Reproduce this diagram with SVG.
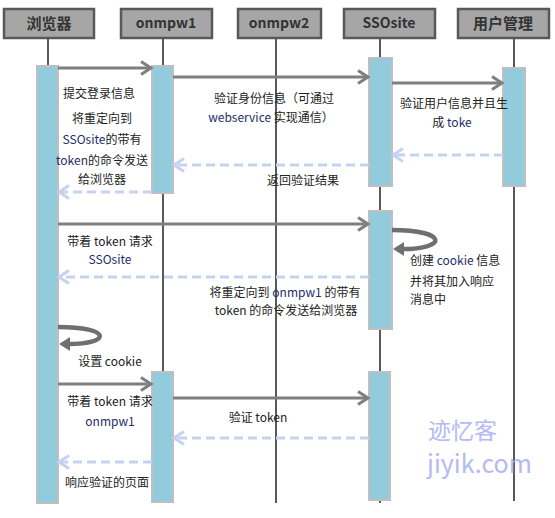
<svg xmlns="http://www.w3.org/2000/svg" width="555" height="518" viewBox="0 0 555 518">
<style>
text{font-family:"Noto Sans CJK SC","Noto Sans",sans-serif;font-size:12px;fill:#222}
.hd{fill:#a6a6a6;stroke:#595959;stroke-width:2.5}
.ht{font-size:14px;font-weight:bold;fill:#333;text-anchor:middle}
.ll{stroke:#595959;stroke-width:2}
.bar{fill:#92cbdc;stroke:#bfbfbf;stroke-width:2}
.sol{stroke:#7f7f7f;stroke-width:3;fill:none;marker-end:url(#ah)}
.ret{stroke:#c5d3f0;stroke-width:3;fill:none;stroke-dasharray:9 5;marker-end:url(#ahd)}
.loop{stroke:#6f6f6f;stroke-width:4.5;fill:none}
.c{text-anchor:middle}
.b{fill:#1f2d6b}
.wm{font-size:23px;fill:#a9aef0;opacity:0.85}
</style>
<defs>
<marker id="ah" markerUnits="userSpaceOnUse" markerWidth="16" markerHeight="16" refX="12" refY="8" orient="auto"><path d="M2,1.5 L12,8 L2,14.5" fill="none" stroke="#7f7f7f" stroke-width="3"/></marker>
<marker id="ahd" markerUnits="userSpaceOnUse" markerWidth="16" markerHeight="16" refX="12" refY="8" orient="auto"><path d="M2,1.5 L12,8 L2,14.5" fill="none" stroke="#c5d3f0" stroke-width="3"/></marker>
</defs>
<rect width="555" height="518" fill="#fff"/>
<g id="browser">
<line class="ll" x1="48" y1="38" x2="48" y2="503"/>
<rect class="hd" x="4" y="9" width="90" height="29"/>
<text class="ht" x="49" y="29" style="font-size:15px">浏览器</text>
<rect class="bar" x="37" y="66" width="21" height="437"/>
</g>
<g id="onmpw1">
<line class="ll" x1="163" y1="38" x2="163" y2="503"/>
<rect class="hd" x="121" y="9" width="91" height="29"/>
<text class="ht" x="166" y="28">onmpw1</text>
<rect class="bar" x="152" y="66" width="21" height="127"/>
<rect class="bar" x="152" y="372" width="21" height="130"/>
</g>
<g id="onmpw2">
<line class="ll" x1="276" y1="38" x2="276" y2="503"/>
<rect class="hd" x="238" y="9" width="83" height="29"/>
<text class="ht" x="279" y="28">onmpw2</text>
</g>
<g id="ssosite">
<line class="ll" x1="380" y1="38" x2="380" y2="503"/>
<rect class="hd" x="344" y="9" width="91" height="29"/>
<text class="ht" x="389" y="28">SSOsite</text>
<rect class="bar" x="369" y="58" width="23" height="128"/>
<rect class="bar" x="369" y="211" width="23" height="118"/>
<rect class="bar" x="369" y="372" width="21" height="128"/>
</g>
<g id="usermgmt">
<line class="ll" x1="514" y1="38" x2="514" y2="501"/>
<rect class="hd" x="458" y="9" width="91" height="29"/>
<text class="ht" x="503" y="29" style="font-size:15px">用户管理</text>
<rect class="bar" x="503" y="68" width="22" height="118"/>
</g>
<g id="connectors">
<line class="sol" x1="58" y1="68" x2="151" y2="68"/>
<line class="sol" x1="173" y1="77" x2="368" y2="77"/>
<line class="sol" x1="392" y1="83" x2="502" y2="83"/>
<line class="ret" x1="503" y1="155" x2="393" y2="155"/>
<line class="ret" x1="369" y1="165" x2="174" y2="165"/>
<line class="ret" x1="152" y1="192" x2="59" y2="192"/>
<line class="sol" x1="58" y1="224" x2="368" y2="224"/>
<path class="loop" d="M392 230 C448 230,448 249,402 249"/>
<polygon points="393,249 404,242 404,256" fill="#6f6f6f"/>
<line class="ret" x1="369" y1="277" x2="59" y2="277"/>
<path class="loop" d="M58 327 C112 327,112 344,68 344"/>
<polygon points="59,344 70,337 70,351" fill="#6f6f6f"/>
<line class="sol" x1="58" y1="384" x2="151" y2="384"/>
<line class="sol" x1="173" y1="398" x2="368" y2="398"/>
<line class="ret" x1="369" y1="438" x2="174" y2="438"/>
<line class="ret" x1="152" y1="462" x2="59" y2="462"/>
</g>
<g id="labels">
<text class="c" x="99" y="98">提交登录信息</text>
<text class="c" x="102" y="123">将重定向到</text>
<text class="c" x="102" y="144"><tspan class="b">SSOsite</tspan>的带有</text>
<text class="c" x="102" y="165"><tspan class="b">token</tspan>的命令发送</text>
<text class="c" x="102" y="184">给浏览器</text>
<text class="c" x="274" y="103">验证身份信息（可通过</text>
<text class="c" x="271" y="122"><tspan class="b">webservice</tspan> 实现通信）</text>
<text class="c" x="303" y="185">返回验证结果</text>
<text class="c" x="454" y="108">验证用户信息并且生</text>
<text class="c" x="452" y="127">成 <tspan class="b">toke</tspan></text>
<text class="c" x="110" y="246">带着 token 请求</text>
<text class="c b" x="110" y="264">SSOsite</text>
<text class="c" x="285" y="297">将重定向到 <tspan class="b">onmpw1</tspan> 的带有</text>
<text class="c" x="286" y="315">token 的命令发送给浏览器</text>
<text x="410" y="265">创建 <tspan class="b">cookie</tspan> 信息</text>
<text x="410" y="286">并将其加入响应</text>
<text x="410" y="304">消息中</text>
<text class="c" x="110" y="366">设置 cookie</text>
<text class="c" x="110" y="406">带着 token 请求</text>
<text class="c b" x="110" y="426">onmpw1</text>
<text class="c" x="258" y="422">验证 token</text>
<text class="c" x="107" y="487">响应验证的页面</text>
<text class="wm" x="428" y="439">迹忆客</text>
<text class="wm" x="427" y="473" style="font-size:25px">jiyik.com</text>
</g>
</svg>
